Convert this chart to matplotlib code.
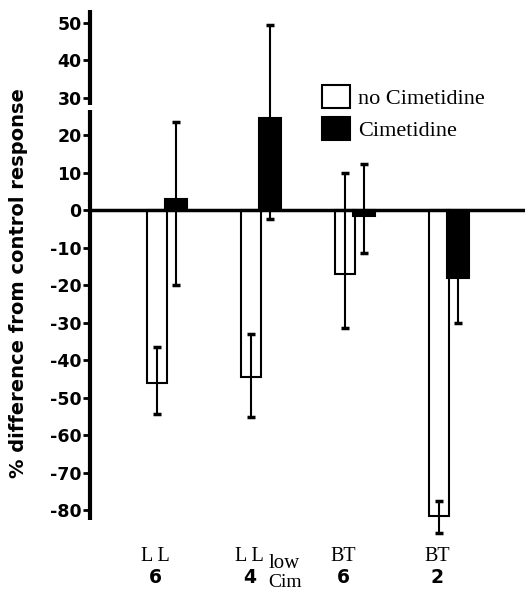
import numpy as np
import matplotlib
matplotlib.use('Agg')
from matplotlib import pyplot as plt

# Values (% difference from control response)
group_names = ['L L', 'L L', 'BT', 'BT']
group_n = ['6', '4', '6', '2']
no_cim = [-46, -44.5, -17, -81.5]
no_cim_err_lo = [8.5, 10.7, 14.4, 4.5]
no_cim_err_hi = [9.5, 11.4, 27, 4]
cim = [3, 24.5, -1.5, -18]
cim_err_lo = [23, 26.9, 10, 12.2]
cim_err_hi = [20.5, 24.8, 13.8, 12]
yticks = [50, 40, 30, 20, 10, 0, -10, -20, -30, -40, -50, -60, -70, -80]

fig = plt.figure(figsize=(5.25, 5.91), dpi=100)
ax = fig.add_axes([90 / 525, 0, 435 / 525, 1])
x = np.arange(len(no_cim))

ax.bar(x - 0.1, no_cim, 0.22, color='white', edgecolor='black', lw=1.5,
       label='no Cimetidine', zorder=2)
ax.bar(x + 0.1, cim, 0.24, color='black', edgecolor='black', lw=1.5,
       label='Cimetidine', zorder=2)
ax.errorbar(x - 0.1, no_cim, yerr=[no_cim_err_lo, no_cim_err_hi], fmt='none',
            ecolor='black', elinewidth=1.5, capsize=3, capthick=2.5, zorder=3)
ax.errorbar(x + 0.1, cim, yerr=[cim_err_lo, cim_err_hi], fmt='none',
            ecolor='black', elinewidth=1.5, capsize=3, capthick=2.5, zorder=3)
ax.axhline(0, color='black', lw=2.5, zorder=4)

# broken y axis line
for spine in ax.spines.values():
    spine.set_visible(False)
ytr = ax.get_yaxis_transform()
ax.plot([0, 0], [53.3, 28], transform=ytr, color='black', lw=3,
        solid_capstyle='butt', clip_on=False)
ax.plot([0, 0], [26.7, -82.7], transform=ytr, color='black', lw=3,
        solid_capstyle='butt', clip_on=False)

ax.set_xlim(-0.814, 3.814)
ax.set_ylim(-101.6, 56)
ax.set_xticks([])
ax.set_yticks(yticks, labels=[str(t) for t in yticks])
ax.tick_params(axis='y', direction='out', length=5, width=2, pad=1,
               labelsize=12.5)
for lbl in ax.get_yticklabels():
    lbl.set_fontweight('bold')

fig.text(19 / 525, 1 - 283 / 591, '% difference from control response',
         rotation=90, ha='center', va='center', fontsize=14, fontweight='bold')

# group labels under the bars
for i in range(len(group_names)):
    ax.text(x[i] - 0.12, -92.3, group_names[i], ha='center', va='center',
            family='Liberation Serif', fontsize=14.5)
    ax.text(x[i] - 0.12, -98.1, group_n[i], ha='center', va='center',
            fontsize=13.5, fontweight='bold')
ax.text(x[1] + 0.25, -94.4, 'low', ha='center', va='center',
        family='Liberation Serif', fontsize=15)
ax.text(x[1] + 0.26, -99.4, 'Cim', ha='center', va='center',
        family='Liberation Serif', fontsize=14)

ax.legend(loc='upper left', bbox_to_anchor=(0.533, 0.856), frameon=False,
          borderpad=0, borderaxespad=0, handlelength=1.26, handleheight=1.2,
          handletextpad=0.36, labelspacing=0.38,
          prop={'family': 'Liberation Serif', 'size': 16})

plt.savefig('out.png', dpi=100)
